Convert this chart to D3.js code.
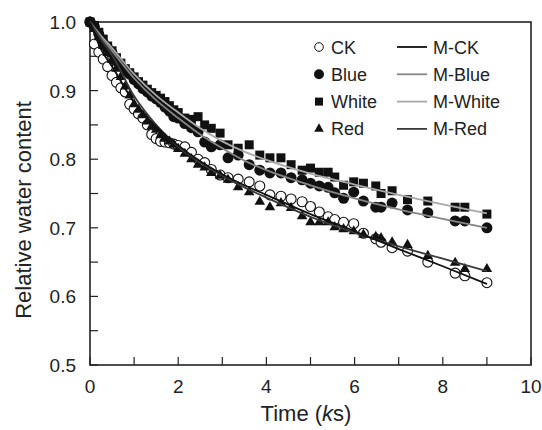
<!DOCTYPE html>
<html>
<head>
<meta charset="utf-8">
<script src="https://cdn.jsdelivr.net/npm/d3@7"></script>
<style>
  body { margin: 0; background: #fff; }
  text { font-family: "Liberation Sans", Arial, sans-serif; fill: #222; }
</style>
</head>
<body>
<svg width="542" height="430"></svg>
<script>
// measured times (ks), shared by all four treatments
var times = [0, 0.1, 0.2, 0.3, 0.4, 0.5, 0.6, 0.7, 0.8, 0.9, 1.0, 1.1, 1.2, 1.3, 1.4, 1.5, 1.6, 1.7, 1.8, 1.9,
  2.0, 2.15, 2.3, 2.45, 2.6, 2.75, 2.95, 3.13, 3.36, 3.61, 3.85, 4.08, 4.33, 4.56, 4.81, 5.0, 5.2, 5.4, 5.55, 5.75,
  5.98, 6.2, 6.48, 6.6, 6.85, 7.2, 7.66, 8.28, 8.5, 9.0];

var ck = [1.0, 0.968, 0.956, 0.946, 0.935, 0.922, 0.912, 0.904, 0.898, 0.880, 0.873, 0.866, 0.860, 0.850, 0.836, 0.830, 0.826, 0.825, 0.824, 0.822,
  0.820, 0.818, 0.810, 0.800, 0.795, 0.785, 0.777, 0.773, 0.771, 0.767, 0.761, 0.748, 0.746, 0.742, 0.738, 0.731, 0.723, 0.716, 0.712, 0.708,
  0.706, 0.692, 0.684, 0.679, 0.671, 0.666, 0.650, 0.634, 0.630, 0.620];
var blue = [1.0, 0.993, 0.982, 0.970, 0.962, 0.955, 0.943, 0.936, 0.929, 0.924, 0.916, 0.910, 0.903, 0.898, 0.892, 0.888, 0.883, 0.876, 0.870, 0.862,
  0.860, 0.852, 0.846, 0.840, 0.825, 0.818, 0.821, 0.802, 0.806, 0.792, 0.784, 0.780, 0.780, 0.773, 0.770, 0.765, 0.761, 0.759, 0.751, 0.743,
  0.752, 0.739, 0.730, 0.730, 0.736, 0.726, 0.722, 0.710, 0.710, 0.700];
var white = [1.0, 0.995, 0.985, 0.975, 0.965, 0.958, 0.948, 0.940, 0.932, 0.926, 0.920, 0.913, 0.908, 0.902, 0.897, 0.893, 0.889, 0.884, 0.878, 0.872,
  0.868, 0.860, 0.858, 0.862, 0.850, 0.845, 0.838, 0.821, 0.816, 0.821, 0.806, 0.802, 0.802, 0.792, 0.784, 0.787, 0.781, 0.781, 0.774, 0.762,
  0.767, 0.765, 0.761, 0.750, 0.754, 0.741, 0.739, 0.730, 0.730, 0.720];
var red = [1.0, 0.990, 0.978, 0.965, 0.955, 0.945, 0.932, 0.920, 0.906, 0.893, 0.880, 0.872, 0.864, 0.855, 0.848, 0.843, 0.835, 0.830, 0.826, 0.821,
  0.815, 0.808, 0.800, 0.792, 0.788, 0.780, 0.776, 0.770, 0.759, 0.752, 0.738, 0.730, 0.736, 0.729, 0.717, 0.708, 0.708, 0.708, 0.701, 0.698,
  0.695, 0.690, 0.687, 0.685, 0.679, 0.675, 0.659, 0.649, 0.640, 0.640];

// model curves
var modelTimes = [0, 0.25, 0.5, 1, 1.5, 2, 2.5, 3, 3.5, 4, 5, 6, 7, 8, 9];
var mCK    = [1.0, 0.960, 0.935, 0.883, 0.848, 0.820, 0.797, 0.778, 0.762, 0.748, 0.720, 0.695, 0.669, 0.644, 0.618];
var mBlue  = [1.0, 0.978, 0.958, 0.918, 0.886, 0.860, 0.836, 0.816, 0.798, 0.784, 0.762, 0.743, 0.727, 0.713, 0.700];
var mWhite = [1.0, 0.980, 0.962, 0.924, 0.893, 0.868, 0.845, 0.826, 0.811, 0.799, 0.779, 0.763, 0.748, 0.734, 0.721];
var mRed   = [1.0, 0.975, 0.952, 0.892, 0.850, 0.818, 0.795, 0.776, 0.759, 0.744, 0.716, 0.693, 0.673, 0.655, 0.637];

var xTicks = [0, 2, 4, 6, 8, 10];
var yTicks = [0.5, 0.6, 0.7, 0.8, 0.9, 1.0];

var svg = d3.select("svg");
var pL = 90, pR = 531, pT = 22, pB = 365;

var x = d3.scaleLinear().domain([0, 10]).range([pL, pR]);
var y = d3.scaleLinear().domain([0.5, 1.0]).range([pB, pT]);

// frame
svg.append("rect")
  .attr("x", pL).attr("y", pT)
  .attr("width", pR - pL).attr("height", pB - pT)
  .attr("fill", "none").attr("stroke", "#222").attr("stroke-width", 1.6);

// inward ticks
var xMinor = d3.range(1, 10, 2);
var yMinor = [0.55, 0.65, 0.75, 0.85, 0.95];
var tick = svg.append("g").attr("stroke", "#222").attr("stroke-width", 1.2);
xTicks.concat(xMinor).forEach(function (t) {
  tick.append("line").attr("x1", x(t)).attr("x2", x(t)).attr("y1", pB).attr("y2", pB - 8);
});
yTicks.concat(yMinor).forEach(function (t) {
  tick.append("line").attr("x1", pL).attr("x2", pL + 8).attr("y1", y(t)).attr("y2", y(t));
});

svg.selectAll(".xl").data(xTicks).enter().append("text")
  .attr("x", function (d) { return x(d); })
  .attr("y", 393)
  .attr("text-anchor", "middle")
  .attr("font-size", 19)
  .text(function (d) { return d; });

svg.selectAll(".yl").data(yTicks).enter().append("text")
  .attr("x", 76)
  .attr("y", function (d) { return y(d) + 7; })
  .attr("text-anchor", "end")
  .attr("font-size", 19)
  .text(function (d) { return d.toFixed(1); });

var xt = svg.append("text").attr("x", 306).attr("y", 421)
  .attr("text-anchor", "middle").attr("font-size", 22);
xt.append("tspan").text("Time (");
xt.append("tspan").attr("font-style", "italic").text("k");
xt.append("tspan").text("s)");

svg.append("text")
  .attr("transform", "translate(31,210) rotate(-90)")
  .attr("text-anchor", "middle").attr("font-size", 22)
  .text("Relative water content");

// markers
function drawPoints(vals, kind) {
  var g = svg.append("g");
  vals.forEach(function (v, i) {
    var cx = x(times[i]), cy = y(v);
    if (kind === "open") {
      g.append("circle").attr("cx", cx).attr("cy", cy).attr("r", 5)
        .attr("fill", "#fff").attr("stroke", "#111").attr("stroke-width", 1.1);
    } else if (kind === "dot") {
      g.append("circle").attr("cx", cx).attr("cy", cy).attr("r", 5.5).attr("fill", "#111");
    } else if (kind === "square") {
      g.append("rect").attr("x", cx - 4.5).attr("y", cy - 4.5).attr("width", 9).attr("height", 9).attr("fill", "#111");
    } else {
      g.append("path").attr("d", d3.symbol().type(d3.symbolTriangle).size(48)())
        .attr("transform", "translate(" + cx + "," + cy + ")").attr("fill", "#111");
    }
  });
}
drawPoints(ck, "open");
drawPoints(blue, "dot");
drawPoints(white, "square");
drawPoints(red, "tri");

// model lines
var line = d3.line()
  .x(function (d, i) { return x(modelTimes[i]); })
  .y(function (d) { return y(d); })
  .curve(d3.curveMonotoneX);
var models = [
  { vals: mWhite, color: "#a8a8a8" },
  { vals: mBlue, color: "#858585" },
  { vals: mRed, color: "#3a3a3a" },
  { vals: mCK, color: "#111" }
];
models.forEach(function (m) {
  svg.append("path").attr("d", line(m.vals))
    .attr("fill", "none").attr("stroke", m.color).attr("stroke-width", 1.8);
});

// legend
var legNames = ["CK", "Blue", "White", "Red"];
var legKinds = ["open", "dot", "square", "tri"];
var legModels = ["M-CK", "M-Blue", "M-White", "M-Red"];
var legColors = ["#111", "#858585", "#a8a8a8", "#3a3a3a"];
legNames.forEach(function (n, i) {
  var cy = 47 + i * 27.3;
  var k = legKinds[i];
  if (k === "open") {
    svg.append("circle").attr("cx", 319).attr("cy", cy).attr("r", 4.3)
      .attr("fill", "#fff").attr("stroke", "#111").attr("stroke-width", 1);
  } else if (k === "dot") {
    svg.append("circle").attr("cx", 319).attr("cy", cy).attr("r", 5).attr("fill", "#111");
  } else if (k === "square") {
    svg.append("rect").attr("x", 315).attr("y", cy - 4).attr("width", 8).attr("height", 8).attr("fill", "#111");
  } else {
    svg.append("path").attr("d", d3.symbol().type(d3.symbolTriangle).size(40)())
      .attr("transform", "translate(319," + cy + ")").attr("fill", "#111");
  }
  svg.append("text").attr("x", 331).attr("y", cy + 6.5).attr("font-size", 18).text(n);
  svg.append("line").attr("x1", 397).attr("x2", 427).attr("y1", cy).attr("y2", cy)
    .attr("stroke", legColors[i]).attr("stroke-width", 1.8);
  svg.append("text").attr("x", 433).attr("y", cy + 6.5).attr("font-size", 18).text(legModels[i]);
});
</script>
</body>
</html>
